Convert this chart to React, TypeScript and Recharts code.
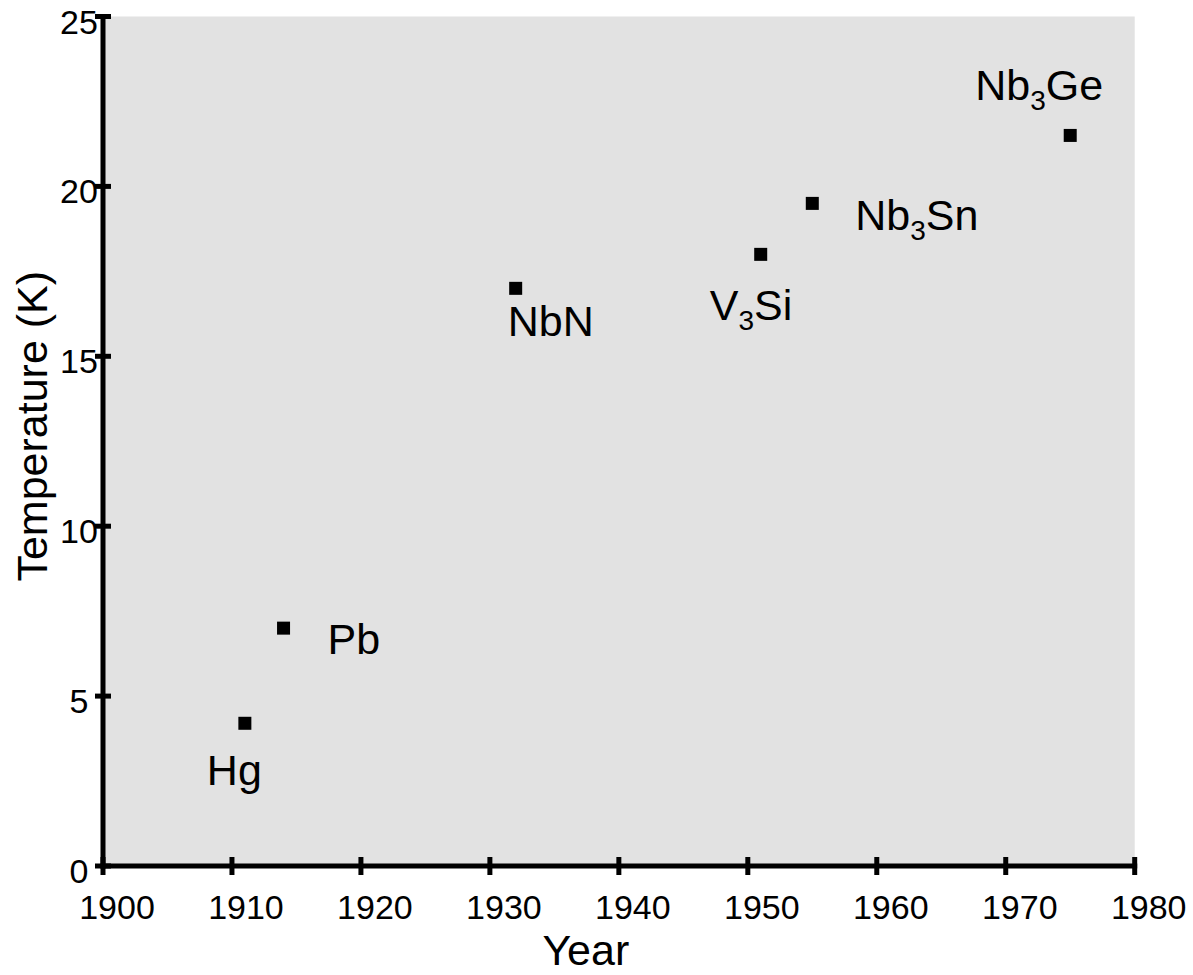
import React from 'react';
import { ScatterChart, Scatter, XAxis, YAxis, CartesianGrid } from 'recharts';

// Superconductors and the year their transition was found
const materials = ['Hg', 'Pb', 'NbN', 'V3Si', 'Nb3Sn', 'Nb3Ge'];
const discoveryYears = [1911, 1914, 1932, 1951, 1955, 1975];
const criticalTemps = [4.2, 7.0, 17.0, 18.0, 19.5, 21.5];

const yearTicks = [1900, 1910, 1920, 1930, 1940, 1950, 1960, 1970, 1980];
const tempTicks = [0, 5, 10, 15, 20, 25];

// Where each material's name sits relative to its marker (dx, dy to the text baseline start)
const labelOffsets: Record<string, [number, number]> = {
  Hg: [-38, 62],
  Pb: [44, 26],
  NbN: [-8, 48],
  V3Si: [-51, 66],
  Nb3Sn: [43, 27],
  Nb3Ge: [-95, -35],
};

const FONT = '"Liberation Sans", Arial, Helvetica, sans-serif';
const INK = '#000';

const points = materials.map((name, i) => ({
  name,
  year: discoveryYears[i],
  temp: criticalTemps[i],
}));

// Square marker plus the chemical formula, digits drawn as subscripts
const MarkerWithLabel = (props: any) => {
  const { cx, cy, payload } = props;
  if (cx == null || cy == null) return null;
  const [dx, dy] = labelOffsets[payload.name] || [10, 0];
  const parts: string[] = String(payload.name).split(/(\d+)/).filter(Boolean);
  let lowered = false;
  return (
    <g>
      <rect x={cx - 6.5} y={cy - 6.5} width={13} height={13} fill={INK} />
      <text x={cx + dx} y={cy + dy} fontSize={43} fontFamily={FONT} fill={INK}>
        {parts.map((part, i) => {
          if (/^\d+$/.test(part)) {
            lowered = true;
            return (
              <tspan key={i} fontSize={28} dy={10}>
                {part}
              </tspan>
            );
          }
          const shift = lowered ? -10 : 0;
          lowered = false;
          return (
            <tspan key={i} dy={shift}>
              {part}
            </tspan>
          );
        })}
      </text>
    </g>
  );
};

// Tick marks cross the axis line; labels sit below
const YearTick = (props: any) => {
  const { x, y, payload } = props;
  return (
    <g>
      <line x1={x} x2={x} y1={y - 9} y2={y + 9} stroke={INK} strokeWidth={5} />
      <text x={x + 14} y={y + 53} textAnchor="middle" fontSize={34} fontFamily={FONT} fill={INK}>
        {payload.value}
      </text>
    </g>
  );
};

const TempTick = (props: any) => {
  const { x, y, payload } = props;
  return (
    <g>
      <line x1={x - 8} x2={x + 8} y1={y} y2={y} stroke={INK} strokeWidth={5} />
      <text x={x - 24} y={y + 17} textAnchor="middle" fontSize={34} fontFamily={FONT} fill={INK}>
        {payload.value}
      </text>
    </g>
  );
};

const YearTitle = (props: any) => {
  const vb = props.viewBox || { x: 103, y: 866, width: 1032, height: 60 };
  return (
    <text
      x={vb.x + vb.width / 2 - 33}
      y={vb.y + 99}
      textAnchor="middle"
      fontSize={43}
      fontFamily={FONT}
      fill={INK}
    >
      Year
    </text>
  );
};

const TempTitle = (props: any) => {
  const vb = props.viewBox || { x: 43, y: 16.5, width: 60, height: 850 };
  const tx = vb.x + 4;
  const ty = vb.y + vb.height / 2 - 15;
  return (
    <text
      x={tx}
      y={ty}
      transform={`rotate(-90, ${tx}, ${ty})`}
      textAnchor="middle"
      fontSize={43}
      fontFamily={FONT}
      fill={INK}
    >
      Temperature (K)
    </text>
  );
};

const frameLine = { stroke: INK, strokeWidth: 5, strokeLinecap: 'square' as const };

export default function App() {
  return (
    <div style={{ position: 'absolute', left: 0, top: 0, width: 1193, height: 975, background: '#fff' }}>
      <ScatterChart
        width={1193}
        height={975}
        margin={{ top: 16.5, right: 58.3, left: 43, bottom: 49 }}
      >
        <CartesianGrid fill="#e2e2e2" horizontal={false} vertical={false} />
        <XAxis
          type="number"
          dataKey="year"
          domain={[1900, 1980]}
          ticks={yearTicks}
          interval={0}
          height={60}
          tickSize={0}
          tickMargin={0}
          tickLine={false}
          axisLine={frameLine}
          tick={<YearTick />}
          label={{ content: <YearTitle /> } as any}
        />
        <XAxis
          xAxisId="top"
          orientation="top"
          type="number"
          domain={[1900, 1980]}
          height={0}
          tick={false}
          tickLine={false}
          axisLine={frameLine}
        />
        <YAxis
          type="number"
          dataKey="temp"
          domain={[0, 25]}
          ticks={tempTicks}
          interval={0}
          width={60}
          tickSize={0}
          tickMargin={0}
          tickLine={false}
          axisLine={frameLine}
          tick={<TempTick />}
          label={{ content: <TempTitle /> } as any}
        />
        <YAxis
          yAxisId="right"
          orientation="right"
          type="number"
          domain={[0, 25]}
          width={0}
          tick={false}
          tickLine={false}
          axisLine={frameLine}
        />
        <Scatter data={points} shape={<MarkerWithLabel />} isAnimationActive={false} />
      </ScatterChart>
    </div>
  );
}
